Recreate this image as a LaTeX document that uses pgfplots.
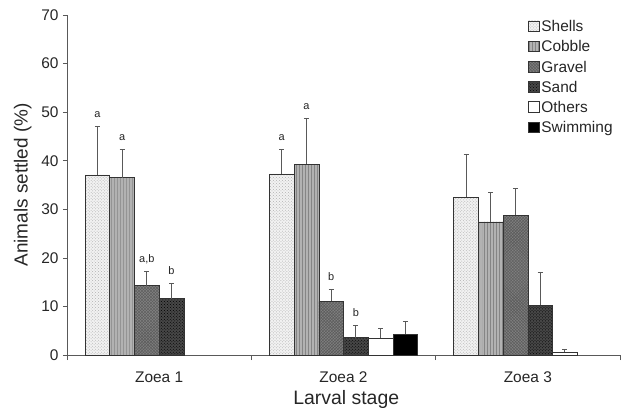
\documentclass[border=0pt]{standalone}
\usepackage{pgfplots}
\pgfplotsset{compat=1.18}
\usepackage{fontspec}
\setmainfont{Liberation Sans}
\usetikzlibrary{patterns}
\definecolor{axgray}{gray}{0.35}
\definecolor{txt}{gray}{0.15}
\begin{document}
\begin{tikzpicture}
\path[use as bounding box] (-67bp,-63bp) rectangle (557bp,355bp);
\begin{axis}[
  scale only axis,
  width=553bp, height=340bp,
  at={(0,0)}, anchor=south west,
  xmin=-0.5, xmax=2.5, ymin=0, ymax=70,
  axis x line*=bottom, axis y line*=left,
  axis line style={axgray, line width=0.7pt},
  ytick={0,10,...,70},
  xtick={0,1,2},
  xticklabels={Zoea 1, Zoea 2, Zoea 3},
  minor xtick={-0.5,0.5,1.5,2.5},
  tick align=outside,
  major tick length=4bp,
  minor tick length=5bp,
  tick style={axgray, line width=0.7pt},
  major x tick style={draw=none},
  /pgf/number format/assume math mode=true,
  ticklabel style={font=\fontsize{15.5}{17}\selectfont, text=txt},
  yticklabel style={xshift=-1bp},
  xticklabel style={yshift=-9bp},
  ylabel={Animals settled (\%)},
  xlabel={Larval stage},
  ylabel style={font=\fontsize{19}{22}\selectfont, text=txt, at={(axis description cs:-0.08,0.5)}, anchor=center},
  xlabel style={font=\fontsize{19.5}{22}\selectfont, text=txt, at={(axis description cs:0.505,-0.132)}, anchor=center},
  ybar=0pt,
  bar width=0.134,
  error bars/y dir=plus,
  error bars/y explicit,
  error bars/error bar style={axgray, line width=0.8pt},
  error bars/error mark options={axgray, rotate=90, mark size=2.5bp, line width=0.8pt},
  legend style={at={(axis description cs:0.834,0.99)}, anchor=north west, draw=none, fill=none,
    font=\fontsize{15.5}{17}\selectfont, text=txt, row sep=3.5bp, inner sep=0pt,
    legend cell align=left},
  legend image code/.code={\draw[#1, line width=0.5pt] (0bp,-4.5bp) rectangle (10.5bp,6bp);},
]
\addplot[draw=black!80, line width=0.6pt, fill=black!5, postaction={pattern=crosshatch dots, pattern color=black!30}]
  coordinates {(0,37.1) +- (0,10.0) (1,37.3) +- (0,5.1) (2,32.5) +- (0,8.9)};
\addlegendentry{Shells}
\addplot[draw=black!80, line width=0.6pt, fill=black!30, postaction={pattern=vertical lines, pattern color=black!48}]
  coordinates {(0,36.5) +- (0,5.8) (1,39.3) +- (0,9.4) (2,27.4) +- (0,6.1)};
\addlegendentry{Cobble}
\addplot[draw=black!80, line width=0.6pt, fill=black!50, postaction={pattern=crosshatch, pattern color=black!65}]
  coordinates {(0,14.3) +- (0,2.9) (1,11.1) +- (0,2.4) (2,28.8) +- (0,5.4)};
\addlegendentry{Gravel}
\addplot[draw=black!80, line width=0.6pt, fill=black!72, postaction={pattern=crosshatch dots, pattern color=black}]
  coordinates {(0,11.6) +- (0,3.2) (1,3.6) +- (0,2.4) (2,10.2) +- (0,6.9)};
\addlegendentry{Sand}
\addplot[draw=black!80, line width=0.6pt, fill=white]
  coordinates {(1,3.4) +- (0,2.0) (2,0.6) +- (0,0.6)};
\addlegendentry{Others}
\addplot[draw=black!80, line width=0.6pt, fill=black]
  coordinates {(1,4.3) +- (0,2.7)};
\addlegendentry{Swimming}
\begin{scope}[every node/.style={font=\fontsize{11}{12}\selectfont, text=txt, anchor=base, yshift=9bp}]
\node at (axis cs:-0.335,47.1) {a};
\node at (axis cs:-0.201,42.3) {a};
\node at (axis cs:-0.067,17.2) {a,b};
\node at (axis cs:0.067,14.8) {b};
\node at (axis cs:0.665,42.4) {a};
\node at (axis cs:0.799,48.7) {a};
\node at (axis cs:0.933,13.5) {b};
\node at (axis cs:1.067,6.0) {b};
\end{scope}
\end{axis}
\end{tikzpicture}
\end{document}
